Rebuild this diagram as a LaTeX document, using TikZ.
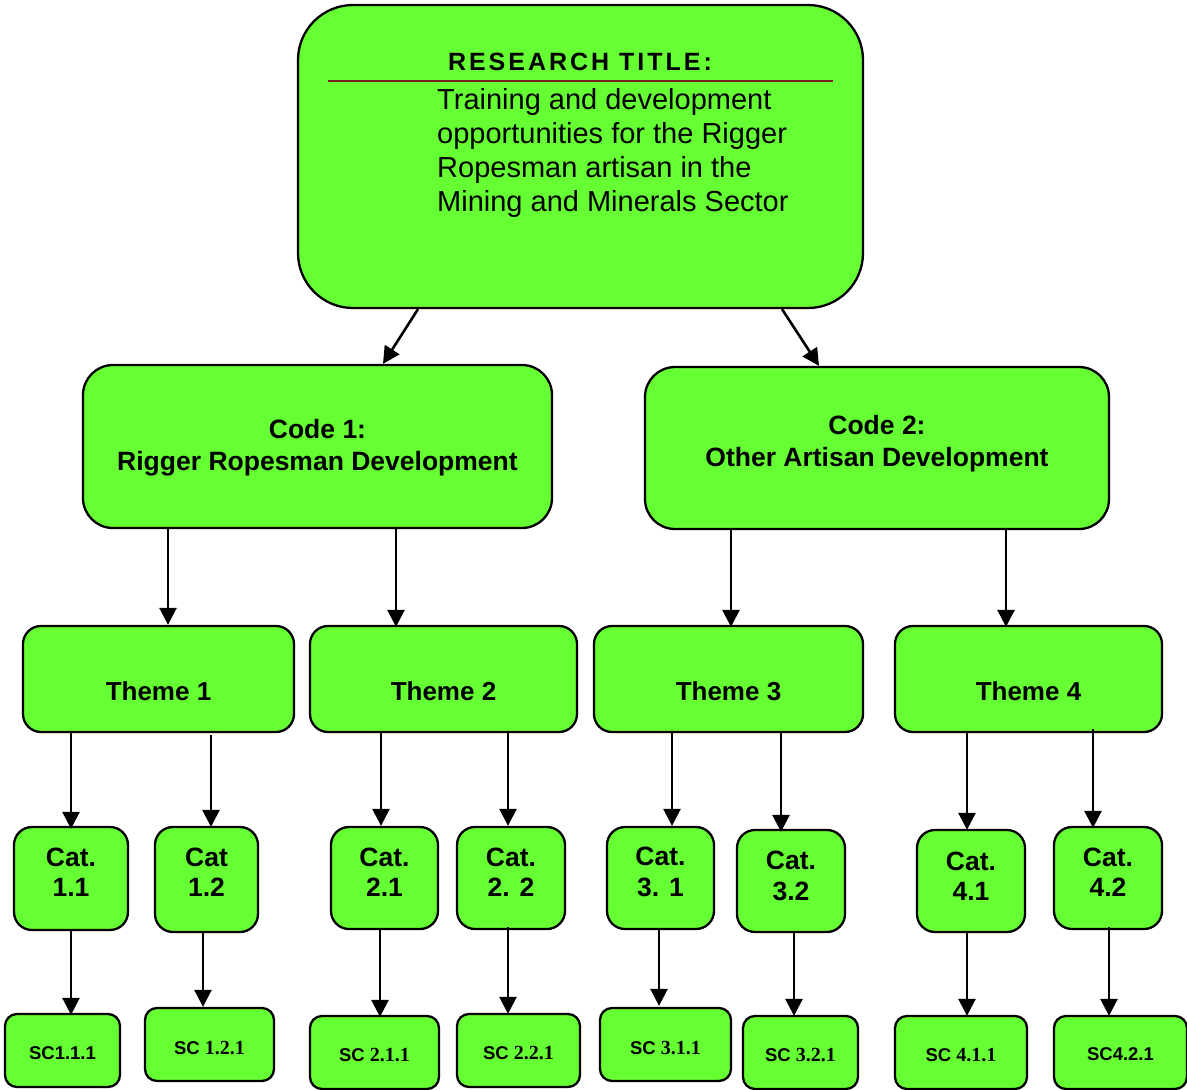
\documentclass[tikz,border=0pt]{standalone}
\usepackage{fontspec}
\setmainfont{Liberation Sans}
\newfontfamily\numfont{Liberation Serif}
\usetikzlibrary{arrows.meta}
\definecolor{boxgreen}{HTML}{66FF33}
\definecolor{rulered}{HTML}{7A2020}
\tikzset{
  box/.style={draw=black, line width=2.3pt, fill=boxgreen, inner sep=0pt},
  arr/.style={line width=2.6pt, -{Triangle[length=17pt,width=17pt]}},
}
% \bx{name}{x1}{y1}{x2}{y2}{radius}{text centre y}{font}{text}
\newcommand\bx[9]{%
  \node[box, rounded corners=#6, minimum width={#4-#2}, minimum height={#5-#3},
    label={[align=center, inner sep=0pt, font=#8, yshift={(#3+#5)/2-#7}]center:#9}]
    (#1) at ({(#2+#4)/2},{(#3+#5)/2}) {};}
\newcommand\codefont{\bfseries\fontsize{26.5}{32}\selectfont}
\newcommand\themefont{\bfseries\fontsize{26}{30}\selectfont}
\newcommand\catfont{\bfseries\fontsize{26.5}{30.5}\selectfont}
\newcommand\scfont{\bfseries\fontsize{18.5}{20}\selectfont}
\newcommand\nf[1]{{\numfont\fontsize{20}{20}\selectfont #1}}
\begin{document}
\begin{tikzpicture}[x=1pt,y=-1pt]
\useasboundingbox (0,0) rectangle (1187,1090);

% research title
\node[box, rounded corners=55, minimum width=565, minimum height=303]
  (title) at (580.5,156.5) {};
\node[font=\bfseries\fontsize{25}{28}\selectfont\addfontfeature{LetterSpace=12},
  anchor=base, inner sep=0pt] (titlehead) at (580,70) {RESEARCH TITLE:};
\draw[rulered, line width=1.4pt] (328,81) -- (833,81);
\node[anchor=base west, align=left, inner sep=0pt,
  font=\fontsize{29}{33.7}\selectfont] (titletext) at (437,211)
  {Training and development\\opportunities for the Rigger\\Ropesman artisan in the\\Mining and Minerals Sector};

% codes
\bx{code1}{83}{365}{552}{528}{30}{448}{\codefont}{Code 1:\\Rigger Ropesman Development}
\bx{code2}{645}{367}{1109}{529}{30}{444}{\codefont}{Code 2:\\Other Artisan Development}

% themes
\bx{th1}{23}{626}{294}{732}{18}{691}{\themefont}{Theme 1}
\bx{th2}{310}{626}{577}{732}{18}{691}{\themefont}{Theme 2}
\bx{th3}{594}{626}{863}{732}{18}{691}{\themefont}{Theme 3}
\bx{th4}{895}{626}{1162}{732}{18}{691}{\themefont}{Theme 4}

% categories
\bx{c11}{14}{827}{128}{930}{18}{872}{\catfont}{Cat.\\1.1}
\bx{c12}{155}{827}{258}{932}{18}{872}{\catfont}{Cat\\1.2}
\bx{c21}{331}{827}{438}{929}{18}{872}{\catfont}{Cat.\\2.1}
\bx{c22}{457}{827}{565}{929}{18}{872}{\catfont}{Cat.\\2. 2}
\bx{c31}{607}{827}{714}{929}{18}{872}{\catfont}{Cat.\\3. 1}
\bx{c32}{737}{830}{845}{932}{18}{876}{\catfont}{Cat.\\3.2}
\bx{c41}{917}{830}{1025}{932}{18}{876}{\catfont}{Cat.\\4.1}
\bx{c42}{1054}{827}{1162}{929}{18}{872}{\catfont}{Cat.\\4.2}

% sub-categories
\bx{s11}{5}{1014}{120}{1087}{12}{1053}{\scfont}{SC1.1.1}
\bx{s12}{145}{1008}{274}{1081}{12}{1048}{\scfont}{SC \nf{1.2.1}}
\bx{s21}{310}{1016}{439}{1089}{12}{1055}{\scfont}{SC \nf{2.1.1}}
\bx{s22}{457}{1014}{580}{1087}{12}{1053}{\scfont}{SC \nf{2.2.1}}
\bx{s31}{600}{1008}{731}{1081}{12}{1048}{\scfont}{SC \nf{3.1.1}}
\bx{s32}{743}{1016}{858}{1089}{12}{1055}{\scfont}{SC \nf{3.2.1}}
\bx{s41}{895}{1016}{1027}{1089}{12}{1055}{\scfont}{SC \nf{4.1.1}}
\bx{s42}{1054}{1016}{1187}{1089}{12}{1054}{\scfont}{SC4.2.1}

% connectors
\draw[arr] ([xshift=-162.5pt]title.south) -- ([xshift=65.5pt]code1.north);
\draw[arr] ([xshift=201.5pt]title.south) -- ([xshift=-58pt]code2.north);

\draw[arr] ([xshift=-149.5pt]code1.south) -- ([xshift=9.5pt]th1.north);
\draw[arr] ([xshift=78.5pt,yshift=2pt]code1.south) -- ([xshift=-47.5pt,yshift=-2pt]th2.north);
\draw[arr] ([xshift=-146pt]code2.south) -- ([xshift=2.5pt,yshift=-2pt]th3.north);
\draw[arr] ([xshift=129pt,yshift=2pt]code2.south) -- ([xshift=-22.5pt,yshift=-2pt]th4.north);

\draw[arr] ([xshift=-87.5pt]th1.south) -- ([xshift=0pt,yshift=-3pt]c11.north);
\draw[arr] ([xshift=52.5pt,yshift=-2pt]th1.south) -- ([xshift=4.5pt,yshift=-1pt]c12.north);
\draw[arr] ([xshift=-62.5pt]th2.south) -- ([xshift=-3.5pt]c21.north);
\draw[arr] ([xshift=64.5pt]th2.south) -- ([xshift=-3pt]c22.north);
\draw[arr] ([xshift=-56.5pt]th3.south) -- ([xshift=11.5pt]c31.north);
\draw[arr] ([xshift=52.5pt]th3.south) -- ([xshift=-10pt,yshift=-3pt]c32.north);
\draw[arr] ([xshift=-61.5pt]th4.south) -- ([xshift=-4pt,yshift=-1pt]c41.north);
\draw[arr] ([xshift=64.5pt,yshift=4pt]th4.south) -- ([xshift=-15pt,yshift=-2pt]c42.north);

\draw[arr] ([xshift=0pt]c11.south) -- ([xshift=8.5pt,yshift=-2pt]s11.north);
\draw[arr] ([xshift=-3.5pt]c12.south) -- ([xshift=-6.5pt]s12.north);
\draw[arr] ([xshift=-4.5pt]c21.south) -- ([xshift=5.5pt,yshift=-2pt]s21.north);
\draw[arr] ([xshift=-3pt,yshift=3pt]c22.south) -- ([xshift=-10.5pt,yshift=-1pt]s22.north);
\draw[arr] ([xshift=-1.5pt]c31.south) -- ([xshift=-6.5pt,yshift=1pt]s31.north);
\draw[arr] ([xshift=3pt]c32.south) -- ([xshift=-6.5pt,yshift=-1pt]s32.north);
\draw[arr] ([xshift=-4pt]c41.south) -- ([xshift=6pt,yshift=-1pt]s41.north);
\draw[arr] ([xshift=1pt,yshift=3pt]c42.south) -- ([xshift=-11.5pt,yshift=-1pt]s42.north);
\end{tikzpicture}
\end{document}
